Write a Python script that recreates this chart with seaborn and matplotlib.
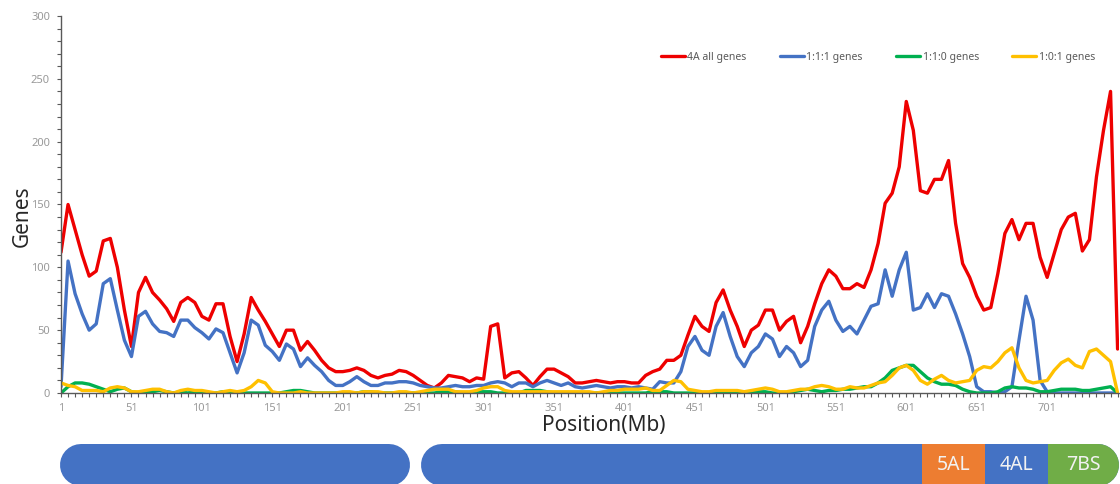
import matplotlib
matplotlib.use("Agg")
import matplotlib.pyplot as plt
import numpy as np
import pandas as pd
import seaborn as sns
from matplotlib.lines import Line2D
from matplotlib.ticker import FixedLocator, MultipleLocator

# gene counts per Mb window, read every 5 Mb along chromosome 4A
positions = np.arange(1, 752, 5)

all_genes = [
    112, 150, 130, 110, 93, 97, 121, 123, 100, 66,
    37, 80, 92, 80, 74, 67, 57, 72, 76, 72,
    61, 58, 71, 71, 45, 25, 47, 76, 66, 57,
    47, 37, 50, 50, 34, 41, 34, 26, 20, 17,
    17, 18, 20, 18, 14, 12, 14, 15, 18, 17,
    14, 10, 6, 4, 8, 14, 13, 12, 9, 12,
    11, 53, 55, 12, 16, 17, 12, 6, 13, 19,
    19, 16, 13, 8, 8, 9, 10, 9, 8, 9,
    9, 8, 8, 14, 17, 19, 26, 26, 30, 46,
    61, 53, 49, 72, 82, 66, 53, 37, 50, 54,
    66, 66, 50, 57, 61, 40, 53, 71, 87, 98,
    93, 83, 83, 87, 84, 98, 119, 151, 159, 180,
    232, 209, 161, 159, 170, 170, 185, 135, 103, 92,
    77, 66, 68, 95, 127, 138, 122, 135, 135, 108,
    92, 111, 130, 140, 143, 113, 122, 172, 209, 240,
    35,
]
genes_111 = [
    5, 105, 79, 63, 50, 55, 87, 91, 66, 42,
    29, 61, 65, 55, 49, 48, 45, 58, 58, 52,
    48, 43, 51, 48, 32, 16, 32, 58, 54, 38,
    33, 26, 39, 35, 21, 28, 22, 17, 10, 6,
    6, 9, 13, 9, 6, 6, 8, 8, 9, 9,
    8, 6, 5, 4, 4, 5, 6, 5, 5, 6,
    6, 8, 9, 8, 5, 8, 8, 5, 8, 10,
    8, 6, 8, 5, 4, 5, 6, 5, 4, 5,
    5, 4, 5, 4, 3, 9, 8, 8, 17, 37,
    45, 34, 30, 53, 64, 45, 29, 21, 32, 37,
    47, 43, 29, 37, 32, 21, 26, 53, 66, 73,
    58, 49, 53, 47, 58, 69, 71, 98, 77, 98,
    112, 66, 68, 79, 68, 79, 77, 63, 47, 29,
    5, 1, 1, 0, 1, 5, 42, 77, 58, 10,
    1, 0, 0, 0, 0, 0, 0, 0, 0, 0,
    0,
]
genes_110 = [
    0, 5, 8, 8, 7, 5, 3, 1, 3, 4,
    1, 0, 1, 1, 2, 1, 0, 1, 0, 1,
    1, 0, 0, 1, 0, 0, 0, 0, 0, 0,
    0, 0, 1, 2, 2, 1, 0, 0, 0, 0,
    0, 0, 0, 1, 1, 0, 0, 0, 0, 0,
    0, 0, 0, 0, 1, 1, 1, 0, 0, 1,
    1, 1, 0, 0, 0, 0, 2, 2, 2, 1,
    0, 0, 0, 0, 0, 0, 0, 0, 0, 0,
    0, 0, 0, 0, 1, 1, 1, 0, 0, 0,
    0, 0, 0, 0, 0, 0, 1, 0, 0, 1,
    1, 0, 0, 0, 1, 2, 3, 2, 1, 2,
    2, 3, 3, 4, 5, 5, 8, 12, 18, 20,
    22, 22, 17, 12, 9, 7, 7, 6, 3, 1,
    0, 0, 0, 1, 4, 5, 4, 4, 3, 1,
    1, 2, 3, 3, 3, 2, 2, 3, 4, 5,
    0,
]
genes_101 = [
    8, 6, 5, 2, 2, 2, 1, 4, 5, 4,
    1, 1, 2, 3, 3, 1, 0, 2, 3, 2,
    2, 1, 0, 1, 2, 1, 2, 5, 10, 8,
    1, 0, 0, 0, 1, 0, 0, 0, 0, 0,
    1, 1, 0, 1, 1, 1, 0, 0, 1, 1,
    0, 1, 2, 3, 3, 3, 1, 1, 1, 2,
    4, 5, 5, 2, 1, 1, 1, 1, 1, 1,
    1, 1, 1, 1, 1, 1, 0, 1, 2, 2,
    3, 3, 3, 4, 2, 2, 6, 10, 9, 3,
    2, 1, 1, 2, 2, 2, 2, 1, 2, 3,
    4, 3, 1, 1, 2, 3, 3, 5, 6, 5,
    3, 3, 5, 4, 4, 6, 8, 9, 14, 20,
    22, 18, 10, 7, 11, 14, 10, 8, 9, 10,
    18, 21, 20, 25, 32, 36, 20, 10, 8, 9,
    10, 18, 24, 27, 22, 20, 33, 35, 30, 25,
    0,
]

series_names = ["4A all genes", "1:1:1 genes", "1:1:0 genes", "1:0:1 genes"]
series_colors = ["#EE0000", "#4472C4", "#00B050", "#FFC000"]
x_tick_labels = np.arange(1, 702, 50)

# chromosome diagram (Mb)
arm_starts = [0.3, 256.5]
arm_ends = [248.7, 752]
band_starts = [612, 657, 701.5]
band_ends = [657, 701.5, 752]
band_labels = ["5AL", "4AL", "7BS"]
band_colors = ["#ED7D31", "#4472C4", "#70AD47"]
arm_color = "#4472C4"

df = pd.concat([
    pd.DataFrame({"Position": positions, "Genes": vals, "Series": name})
    for name, vals in zip(series_names, [all_genes, genes_111, genes_110, genes_101])
])

sns.set_theme(style="white")
plt.rcParams["font.family"] = ["Noto Sans", "DejaVu Sans"]

W, H = 1120, 484
fig = plt.figure(figsize=(W / 100, H / 100), dpi=100)
ax = fig.add_axes([61 / W, 1 - 393 / H, 1058 / W, 377 / H])

sns.lineplot(data=df, x="Position", y="Genes", hue="Series", hue_order=series_names,
             palette=dict(zip(series_names, series_colors)), linewidth=2.4,
             ax=ax, legend=False)

ax.set_xlim(1, 752)
ax.set_ylim(0, 300)
for side in ["top", "right"]:
    ax.spines[side].set_visible(False)
for side in ["left", "bottom"]:
    ax.spines[side].set_color("#595959")
    ax.spines[side].set_linewidth(1.0)

ax.xaxis.set_major_locator(FixedLocator(x_tick_labels))
ax.xaxis.set_minor_locator(FixedLocator(np.arange(1, 752, 5)))
ax.yaxis.set_major_locator(MultipleLocator(50))
ax.yaxis.set_minor_locator(MultipleLocator(10))
ax.tick_params(axis="both", which="both", direction="out", length=3, width=0.8,
               color="#595959", labelsize=8, labelcolor="#999999")
ax.tick_params(axis="x", which="both", bottom=True, pad=4)
ax.tick_params(axis="y", which="both", left=True, pad=5)

ax.set_xlabel("Position(Mb)", fontsize=15, color="#262626")
ax.set_ylabel("Genes", fontsize=15, color="#262626")
ax.xaxis.set_label_coords(0.513, -0.058)
ax.yaxis.set_label_coords(-0.027, 0.47)

handles = [Line2D([0], [0], color=c, lw=2.4) for c in series_colors]
ax.legend(handles, series_names, loc="center", bbox_to_anchor=(0.772, 0.891), ncol=4,
          frameon=False, fontsize=7.5, handlelength=2.3, handletextpad=0.25,
          columnspacing=3.2, labelcolor="#595959")

# chromosome bar below the plot
ax2 = fig.add_axes([61 / W, -2 / H, 1058 / W, 42 / H])
ax2.set_xlim(1, 752)
ax2.set_ylim(0, 1)
ax2.axis("off")
bar_lw = 42 * 72 / 100
r = 21 / 1.409
for s, e in zip(arm_starts, arm_ends):
    ax2.plot([s + r, e - r], [0.5, 0.5], color=arm_color, lw=bar_lw,
             solid_capstyle="round", clip_on=False)
for s, e, c, lab in zip(band_starts, band_ends, band_colors, band_labels):
    if e >= arm_ends[-1]:
        ax2.plot([s + r, e - r], [0.5, 0.5], color=c, lw=bar_lw,
                 solid_capstyle="round", clip_on=False)
        ax2.plot([s, e - r], [0.5, 0.5], color=c, lw=bar_lw,
                 solid_capstyle="butt", clip_on=False)
    else:
        ax2.plot([s, e], [0.5, 0.5], color=c, lw=bar_lw,
                 solid_capstyle="butt", clip_on=False)
    ax2.text((s + e) / 2, 0.5, lab, ha="center", va="center", fontsize=14,
             color="#F2F2F2")

fig.savefig("out.png", dpi=100)
